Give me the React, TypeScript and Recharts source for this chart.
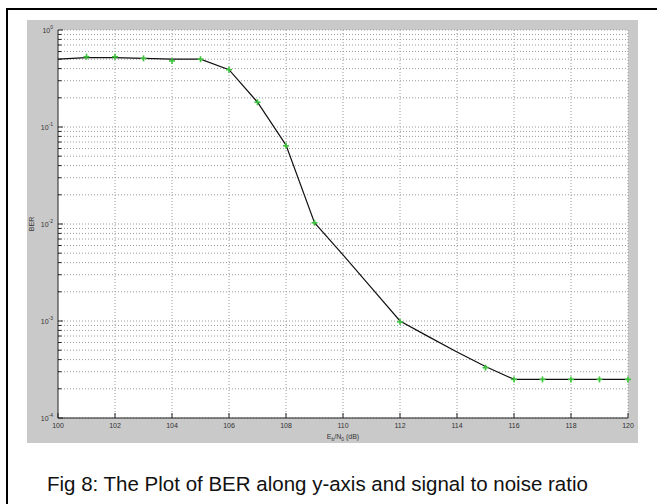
import { CartesianGrid, Line, LineChart, ReferenceLine, XAxis, YAxis } from "recharts";

// Eb/N0 (dB) sampled by the black curve
const snrLine = [100, 101, 102, 103, 104, 105, 106, 107, 108, 109, 110, 111, 112, 113, 114, 115, 116, 117, 118, 119, 120];
const berLine = [
  0.5, 0.52, 0.52, 0.51, 0.5, 0.5, 0.39, 0.18, 0.065, 0.0103, 0.0048, 0.0022, 0.001, 0.00069, 0.00048, 0.00034,
  0.00025, 0.00025, 0.00025, 0.00025, 0.00025,
];

// green "+" markers
const snrMarked = [101, 102, 103, 104, 105, 106, 107, 108, 109, 112, 115, 116, 117, 118, 119, 120];
const berMarked = [
  0.53, 0.53, 0.51, 0.48, 0.5, 0.39, 0.18, 0.064, 0.0103, 0.00098, 0.00033, 0.00025, 0.00025, 0.00025, 0.00025,
  0.00025,
];

const xTicks = [100, 102, 104, 106, 108, 110, 112, 114, 116, 118, 120];
const decades = [1e-4, 1e-3, 1e-2, 1e-1, 1];
const minorSteps = [2, 3, 4, 5, 6, 7, 8, 9];

const yTicks = [
  ...decades,
  ...decades.slice(0, -1).flatMap((d) => minorSteps.map((m) => m * d)),
].sort((a, b) => a - b);

const data = snrLine.map((snr, i) => {
  const k = snrMarked.indexOf(snr);
  return { snr, line: berLine[i], mark: k >= 0 ? berMarked[k] : null };
});

const FONT = '"Liberation Sans", Arial, Helvetica, sans-serif';
const CHART_W = 611;
const CHART_H = 423;
const AXIS_X = 31; // left edge of the plot, in chart coords
const AXIS_Y = 398; // bottom edge of the plot, in chart coords
const GRID = "#9a9a9a";

function YTick(props: any) {
  const { y, payload } = props;
  const v = payload.value as number;
  const lg = Math.log10(v);
  const exp = Math.round(lg);
  const major = Math.abs(lg - exp) < 1e-6;
  return (
    <g>
      <line x1={AXIS_X} x2={AXIS_X + (major ? 5 : 3.5)} y1={y} y2={y} stroke="#222" strokeWidth={1} />
      {major ? (
        <text x={AXIS_X - 5} y={y + 3} textAnchor="end" fontSize={7} fill="#333" fontFamily={FONT}>
          10
          <tspan dy={-4} fontSize={5}>
            {exp}
          </tspan>
        </text>
      ) : null}
    </g>
  );
}

function XTick(props: any) {
  const { x, payload } = props;
  return (
    <g>
      <line x1={x} x2={x} y1={AXIS_Y} y2={AXIS_Y - 5} stroke="#222" strokeWidth={1} />
      <text x={x} y={AXIS_Y + 10} textAnchor="middle" fontSize={7} fill="#333" fontFamily={FONT}>
        {payload.value}
      </text>
    </g>
  );
}

function XLabel({ viewBox }: any) {
  const cx = viewBox.x + viewBox.width / 2;
  return (
    <text x={cx} y={AXIS_Y + 21} textAnchor="middle" fontSize={7} fill="#333" fontFamily={FONT}>
      E
      <tspan dy={2} fontSize={5}>
        b
      </tspan>
      <tspan dy={-2}>/N</tspan>
      <tspan dy={2} fontSize={5}>
        0
      </tspan>
      <tspan dy={-2}> (dB)</tspan>
    </text>
  );
}

function YLabel({ viewBox }: any) {
  const cy = viewBox.y + viewBox.height / 2;
  return (
    <text
      x={7}
      y={cy}
      transform={`rotate(-90 7 ${cy})`}
      textAnchor="middle"
      fontSize={7}
      fill="#333"
      fontFamily={FONT}
    >
      BER
    </text>
  );
}

function PlusMarker(props: any) {
  const { cx, cy, index } = props;
  if (cx == null || cy == null || Number.isNaN(cy)) return <g key={`m${index}`} />;
  return (
    <g key={`m${index}`}>
      <line x1={cx - 3} x2={cx + 3} y1={cy} y2={cy} stroke="#3cc43c" strokeWidth={1.6} />
      <line x1={cx} x2={cx} y1={cy - 3} y2={cy + 3} stroke="#3cc43c" strokeWidth={1.6} />
    </g>
  );
}

export default function App() {
  return (
    <div
      style={{
        position: "absolute",
        left: 0,
        top: 0,
        width: 657,
        height: 504,
        background: "#fff",
        overflow: "hidden",
        fontFamily: FONT,
      }}
    >
      <div
        style={{
          position: "absolute",
          left: 6,
          top: 8,
          width: 700,
          height: 600,
          borderLeft: "2px solid #000",
          borderTop: "2px solid #000",
        }}
      />
      <div style={{ position: "absolute", left: 27, top: 20, width: CHART_W, height: CHART_H, background: "#c9c9c9" }}>
        <LineChart width={CHART_W} height={CHART_H} data={data} margin={{ top: 10, right: 10, left: 0, bottom: 0 }}>
          <CartesianGrid horizontal={false} vertical={false} fill="#fff" fillOpacity={1} stroke="none" />
          {yTicks.map((v) => (
            <ReferenceLine key={`h${v}`} y={v} stroke={GRID} strokeDasharray="1 2" strokeWidth={1} />
          ))}
          {xTicks.slice(1).map((v) => (
            <ReferenceLine key={`v${v}`} x={v} stroke={GRID} strokeDasharray="1 2" strokeWidth={1} />
          ))}
          <XAxis
            dataKey="snr"
            type="number"
            domain={[100, 120]}
            ticks={xTicks}
            interval={0}
            height={25}
            tickLine={false}
            axisLine={{ stroke: "#222" }}
            tick={<XTick />}
            label={<XLabel />}
          />
          <YAxis
            type="number"
            scale="log"
            domain={[1e-4, 1]}
            allowDataOverflow
            ticks={yTicks}
            interval={0}
            width={31}
            tickLine={false}
            axisLine={{ stroke: "#222" }}
            tick={<YTick />}
            label={<YLabel />}
          />
          <Line
            type="linear"
            dataKey="line"
            stroke="#111"
            strokeWidth={1.2}
            dot={false}
            isAnimationActive={false}
          />
          <Line
            type="linear"
            dataKey="mark"
            stroke="none"
            dot={PlusMarker}
            activeDot={false}
            isAnimationActive={false}
          />
        </LineChart>
      </div>
      <div
        style={{
          position: "absolute",
          left: 47,
          top: 474,
          fontSize: 20.5,
          lineHeight: "20px",
          color: "#111",
          whiteSpace: "nowrap",
        }}
      >
        Fig 8: The Plot of BER along y-axis and signal to noise ratio
      </div>
    </div>
  );
}
